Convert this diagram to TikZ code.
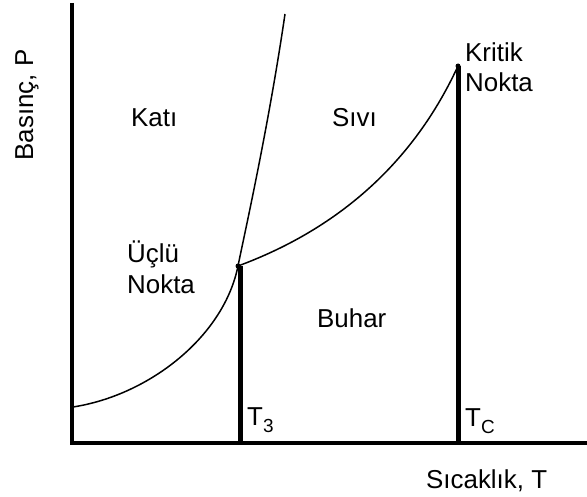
\documentclass[tikz,border=0pt]{standalone}
\usepackage{fontspec}
\setmainfont{Liberation Sans}
\newcommand{\lowsub}[1]{\raisebox{-7bp}{\fontsize{19}{19}\selectfont #1}}
\begin{document}
\begin{tikzpicture}[x=1bp,y=-1bp,
  lbl/.style={inner sep=0pt, font=\fontsize{26}{31}\selectfont, anchor=base west},
  axis/.style={line width=4bp, line join=miter},
  tline/.style={line width=5bp},
  curve/.style={line width=1.5bp},
  dot/.style={circle, fill=black, inner sep=0pt, minimum size=5bp}]
\useasboundingbox (0,0) rectangle (587,497);
% key points
\coordinate (ytop) at (72,3);
\coordinate (O) at (72,443);
\coordinate (xend) at (590,443);
\coordinate (tp) at (238,266);
\coordinate (cp) at (458,66);
\coordinate (t3b) at (240,443);
\coordinate (t3t) at (240,266);
\coordinate (tcb) at (458,443);
\coordinate (mtop) at (285,14);
\coordinate (svl) at (73,407);
% axes
\draw[axis] (ytop) -- (O) -- (xend);
% vertical temperature lines
\draw[tline] (t3t) -- (t3b);
\draw[tline] (cp) -- (tcb);
% solid-vapour and melting curves
\draw[curve] (svl) .. controls (150,395) and (224,336) .. (tp)
                   .. controls (244,236) and (268,130) .. (mtop);
% liquid-vapour curve
\draw[curve] (tp) .. controls (330,232) and (410,170) .. (cp);
% points
\node[dot] (tpd) at (tp) {};
\node[dot] (cpd) at (cp) {};
% labels
\node[lbl] (kati) at (131,127) {Katı};
\node[lbl] (sivi) at (332,127) {Sıvı};
\node[lbl] (buhar) at (317,327) {Buhar};
\node[lbl, align=left] (uclu) at (127,293) {Üçlü\\Nokta};
\node[lbl, align=left] (kritik) at (465,92) {Kritik\\Nokta};
\node[lbl] (t3) at (247,425) {T\lowsub{3}};
\node[lbl] (tc) at (465,426) {T\lowsub{C}};
\node[lbl] (xlab) at (426,488) {Sıcaklık, T};
\node[lbl, anchor=base, rotate=90] (ylab) at (33,105) {Basınç, P};
\end{tikzpicture}
\end{document}
